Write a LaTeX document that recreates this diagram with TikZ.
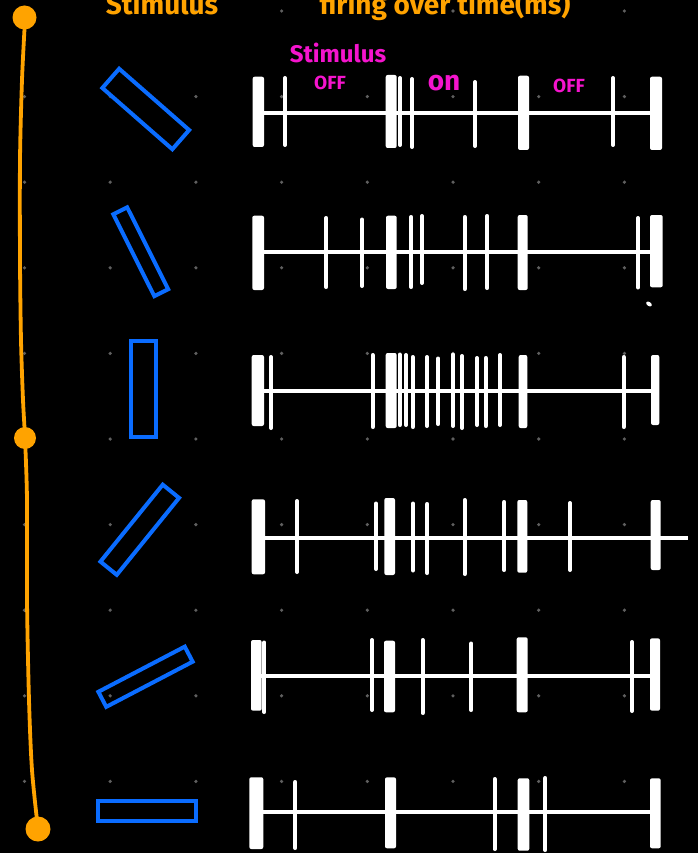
\documentclass[tikz,border=0pt]{standalone}
\usepackage{fontspec}
\setmainfont{Fira Sans}
\usepackage{tikz,xcolor}
\usetikzlibrary{calc}

\definecolor{stimorange}{RGB}{255,163,0}
\definecolor{stimblue}{RGB}{10,108,255}
\definecolor{labelpink}{RGB}{245,20,205}
\definecolor{griddot}{RGB}{95,95,95}

\tikzset{
  stimbar/.style={draw=stimblue, line width=4pt, minimum width=#1, inner sep=0pt},
  axisline/.style={white, line width=3.8pt},
  bigbar/.style={fill=white, rounded corners=2pt},
  spike/.style={white, line width=4pt, line cap=round},
  headtext/.style={stimorange, font=\fontsize{28}{30}\selectfont\bfseries, anchor=base},
  pinktext/.style={labelpink, font=\fontsize{#1}{#1}\selectfont\bfseries, anchor=base}
}

\begin{document}
\begin{tikzpicture}[x=1pt,y=-1pt]
\useasboundingbox (0,0) rectangle (698,853);
\fill[black] (0,0) rectangle (698,853);

% dot grid in the background
\foreach \i in {0,...,7}
  \foreach \j in {0,...,9}
    \fill[griddot] (24.5+85.7*\i,11+85.6*\j) circle (1.8);

% orange scale on the left
\draw[stimorange, line width=3.8pt, line cap=round] plot[smooth] coordinates
  {(25,20) (22,80) (20,160) (20,260) (21,340) (23,400) (25,438) (27,500) (27,600) (29,700) (32,770) (38,829)};
\fill[stimorange] (24.5,17.5) circle (12);
\fill[stimorange] (25,438) circle (11);
\fill[stimorange] (38,829) circle (12.5);

% titles, cut at the top
\node[headtext] (stimhead) at (162,15) {Stimulus};
\node[headtext] (firehead) at (445,15) {firing over time(ms)};

% stimulus bars
\node[stimbar=93pt, minimum height=25.5pt, rotate=-41.2] (bar1) at (145.75,109) {};
\node[stimbar=91.5pt, minimum height=15.5pt, rotate=-63.4] (bar2) at (140.75,251.75) {};
\node[stimbar=25pt, minimum height=96pt] (bar3) at (143.5,389) {};
\node[stimbar=99pt, minimum height=21pt, rotate=51] (bar4) at (139.75,529.75) {};
\node[stimbar=97.5pt, minimum height=17pt, rotate=27.6] (bar5) at (145.5,676.75) {};
\node[stimbar=98pt, minimum height=20pt] (bar6) at (147,811) {};

% labels of the first train
\node[pinktext=24] (stimlabel) at (338,63) {Stimulus};
\node[pinktext=19] (offa) at (330,90) {OFF};
\node[pinktext=28] (onlabel) at (444,91) {on};
\node[pinktext=19] (offb) at (569,93) {OFF};

% train 1
\draw[axisline] (258,112.7) -- (656,112.7);
\foreach \xa/\xb/\ya/\yb in {252.7/264/76.7/147, 385.7/396.7/75/148, 518/529/75.7/150, 650/662/76.7/150}
  \fill[bigbar] (\xa,\ya) rectangle (\xb,\yb);
\foreach \x/\ya/\yb in {285/78/145, 400/78/145, 412/79/147, 475/82/146, 613/78/145}
  \draw[spike] (\x,\ya) -- (\x,\yb);

% train 2
\draw[axisline] (258,251.7) -- (656,251.7);
\foreach \xa/\xb/\ya/\yb in {252.3/264/215.7/290, 386/396.7/215.7/289, 517.7/527.7/215/290, 650/662.7/215/287.3}
  \fill[bigbar] (\xa,\ya) rectangle (\xb,\yb);
\foreach \x/\ya/\yb in {326.3/218/287, 362/219.5/286, 411.3/217/287, 422/216/283, 464.7/217/289, 487.3/216/288, 638/218/287.5}
  \draw[spike] (\x,\ya) -- (\x,\yb);
\fill[white, rotate around={-35:(649,304)}] (649,304) ellipse (3.2 and 2);

% train 3
\draw[axisline] (258,391) -- (656,391);
\foreach \xa/\xb/\ya/\yb in {251.7/264/355/426, 385.7/396.7/353/428, 518.7/527.3/355/428, 651/659.3/355/425}
  \fill[bigbar] (\xa,\ya) rectangle (\xb,\yb);
\foreach \x/\ya/\yb in {271/357/428, 372.7/355/427, 399.7/354.5/425, 406/355/425, 412.7/357/427, 427/357/426,
  438.3/358.5/424, 453/354.5/426, 462/356/428, 477/358/425, 485.7/358/426, 500/355/425, 623.7/357/427}
  \draw[spike] (\x,\ya) -- (\x,\yb);

% train 4, line runs on past the end
\draw[axisline] (258,538) -- (688,538);
\foreach \xa/\xb/\ya/\yb in {251.7/265/499.3/574.3, 384.3/395/498/575, 517.3/527.3/500/572.7, 650.7/660.7/500/570}
  \fill[bigbar] (\xa,\ya) rectangle (\xb,\yb);
\foreach \x/\ya/\yb in {297/501/572, 376/503.5/569, 413/503.5/570.5, 427.3/504/573, 464.7/500/574, 504.3/502/570, 570/503/570}
  \draw[spike] (\x,\ya) -- (\x,\yb);

% train 5
\draw[axisline] (258,676.3) -- (656,676.3);
\foreach \xa/\xb/\ya/\yb in {251/261.7/640/710.7, 384/395/640.7/712.3, 516.7/527.7/637.3/712.3, 650/660/638.3/710.7}
  \fill[bigbar] (\xa,\ya) rectangle (\xb,\yb);
\foreach \x/\ya/\yb in {264.3/642.5/712, 372/640/710, 422.7/640/713, 471.3/643.5/710, 632/642/711}
  \draw[spike] (\x,\ya) -- (\x,\yb);

% train 6
\draw[axisline] (258,812) -- (656,812);
\foreach \xa/\xb/\ya/\yb in {249.3/263.3/777.3/849, 385/396/777.3/848.3, 517.7/529.3/778.3/850.7, 650/660.7/778.3/848.3}
  \fill[bigbar] (\xa,\ya) rectangle (\xb,\yb);
\foreach \x/\ya/\yb in {295.3/782/848, 494.7/779/849, 545.3/778/850}
  \draw[spike] (\x,\ya) -- (\x,\yb);
\end{tikzpicture}
\end{document}
